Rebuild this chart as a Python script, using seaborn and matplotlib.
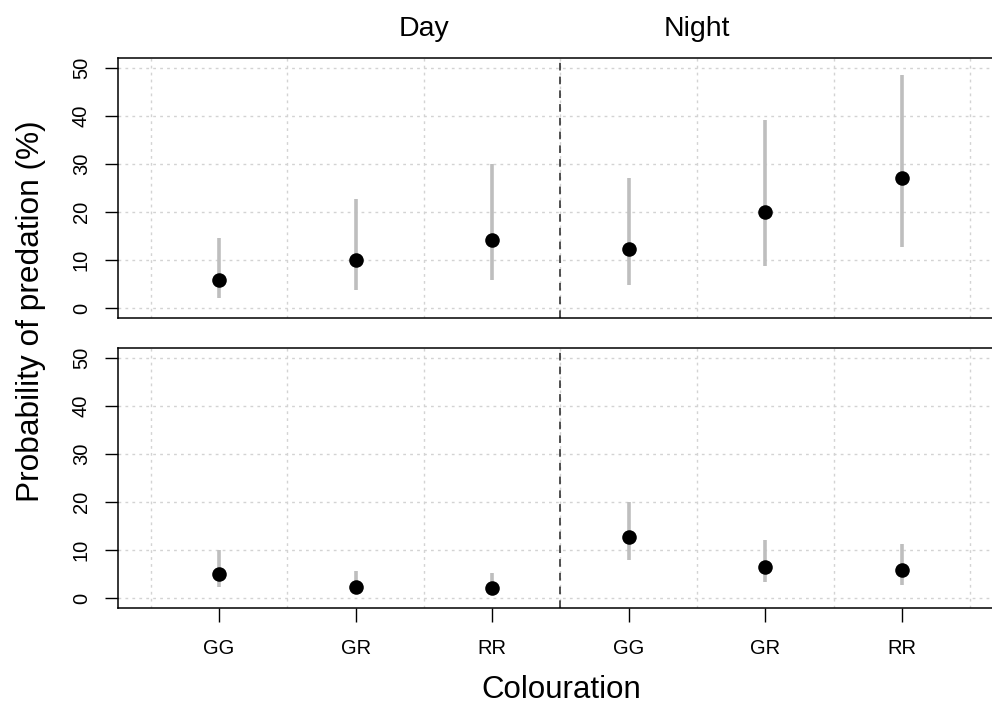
import matplotlib
matplotlib.use("Agg")
import matplotlib.pyplot as plt
import seaborn as sns
import pandas as pd

# data
labels = ["GG", "GR", "RR", "GG", "GR", "RR"]
period = ["Day", "Day", "Day", "Night", "Night", "Night"]

top_est = [5.9, 10.1, 14.2, 12.3, 20.1, 27.1]
top_lo = [2.1, 3.8, 5.9, 4.9, 8.8, 12.7]
top_hi = [14.6, 22.7, 29.9, 27.1, 39.2, 48.4]

bot_est = [5.1, 2.4, 2.2, 12.8, 6.5, 5.9]
bot_lo = [2.4, 1.1, 0.9, 8.0, 3.3, 2.8]
bot_hi = [10.1, 5.7, 5.2, 20.0, 12.1, 11.3]

sns.set_style("white")
plt.rcParams['font.family'] = ['Liberation Sans', 'DejaVu Sans']
plt.rcParams['text.color'] = 'black'
plt.rcParams['xtick.color'] = 'black'
plt.rcParams['ytick.color'] = 'black'

fig = plt.figure(figsize=(9.92, 7.09), dpi=100)
W, H = 992, 709
# axes boxes in pixels: left, top, right, bottom (right side runs past the crop)
boxes = [(118, 58, 1003, 318), (118, 348, 1003, 608)]
axes = [fig.add_axes([l / W, 1 - b / H, (r - l) / W, (b - t) / H]) for l, t, r, b in boxes]

panels = [(top_est, top_lo, top_hi), (bot_est, bot_lo, bot_hi)]
xpos = list(range(1, 7))

for i, (ax, (est, lo, hi)) in enumerate(zip(axes, panels)):
    df = pd.DataFrame({"x": xpos, "est": est, "lo": lo, "hi": hi, "period": period})
    # dotted grid like R's grid()
    for gx in [0.5, 1.5, 2.5, 3.5, 4.5, 5.5, 6.5]:
        ax.axvline(gx, color="#d3d3d3", lw=1, ls=(0, (2, 3)), zorder=0)
    for gy in range(0, 60, 10):
        ax.axhline(gy, color="#d3d3d3", lw=1, ls=(0, (2, 3)), zorder=0)
    ax.vlines(df["x"], df["lo"], df["hi"], color="#bebebe", lw=2.6, zorder=2)
    sns.scatterplot(data=df, x="x", y="est", ax=ax, color="black", s=110,
                    edgecolor="black", linewidth=0, zorder=3, legend=False)
    ax.axvline(3.5, color="#222222", lw=1.1, ls=(0, (5, 4)), zorder=2)
    ax.set_xlim(0.26, 6.74)
    ax.set_ylim(-2, 52)
    ax.set_yticks(range(0, 60, 10))
    ax.set_yticklabels([str(v) for v in range(0, 60, 10)], rotation=90, va="center")
    ax.set_xlabel("")
    ax.set_ylabel("")
    for sp in ax.spines.values():
        sp.set_color("black")
        sp.set_linewidth(1.1)
    ax.tick_params(axis="y", direction="out", length=9.5, width=1, pad=10,
                   left=True, labelsize=14.5)
    if i == 0:
        ax.set_xticks([])
    else:
        ax.set_xticks(xpos)
        ax.set_xticklabels(labels)
        ax.tick_params(axis="x", direction="out", length=10, width=1, pad=12,
                       bottom=True, labelsize=14.5)

axes[0].text(2.5, 1.06, "Day", transform=axes[0].get_xaxis_transform(),
             ha="center", va="bottom", fontsize=20.5)
axes[0].text(4.5, 1.06, "Night", transform=axes[0].get_xaxis_transform(),
             ha="center", va="bottom", fontsize=20.5)

fig.text(31 / W, 1 - 311 / H, "Probability of predation (%)", rotation=90,
         ha="center", va="center", fontsize=22.8)
fig.text(561 / W, 1 - 690 / H, "Colouration", ha="center", va="center", fontsize=22.5)

fig.savefig("out.png", dpi=100)
